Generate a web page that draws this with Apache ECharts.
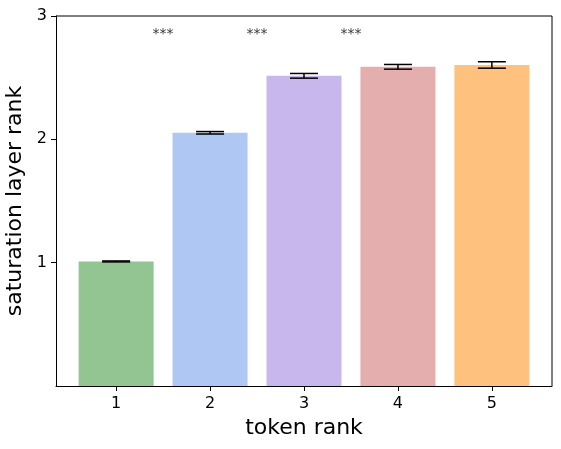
<!DOCTYPE html>
<html>
<head>
<meta charset="utf-8">
<script src="https://cdn.jsdelivr.net/npm/echarts@6/dist/echarts.min.js"></script>
<style>
  html, body { margin: 0; padding: 0; background: #fff; }
  #chart { width: 561px; height: 449px; }
</style>
</head>
<body>
<div id="chart"></div>
<script>
// token rank categories and values
const tokenRanks = [1, 2, 3, 4, 5]
const meanValues = [1.01, 2.053, 2.515, 2.588, 2.603]
const errValues = [0.004, 0.01, 0.019, 0.019, 0.026]
const barColors = ['#92c591', '#afc8f3', '#c8b7ec', '#e5aeae', '#fec27e']
// significance markers between neighbouring bars
const starPositions = [1.5, 2.5, 3.5]
const starLabels = ['***', '***', '***']
const starLevel = 2.855
const yTicks = [1, 2, 3]

const chart = echarts.init(document.getElementById('chart'))

const option = {
  animation: false,
  grid: {left: 56, right: 9, top: 16, bottom: 63, outerBoundsMode: 'none', containLabel: false},
  xAxis: {
    type: 'value',
    min: 0.36,
    max: 5.64,
    name: 'token rank',
    nameLocation: 'middle',
    nameGap: 31,
    nameTextStyle: {fontSize: 22, color: '#000', fontFamily: 'DejaVu Sans'},
    axisLine: {show: true, lineStyle: {color: '#000'}},
    axisTick: {show: true, length: 5, customValues: tokenRanks, lineStyle: {color: '#000'}},
    axisLabel: {customValues: tokenRanks, fontSize: 16, color: '#000', margin: 10, fontFamily: 'DejaVu Sans'},
    splitLine: {show: false}
  },
  yAxis: {
    type: 'value',
    min: 0,
    max: 3,
    name: 'saturation layer rank',
    nameLocation: 'middle',
    nameGap: 23,
    nameTextStyle: {fontSize: 22, color: '#000', fontFamily: 'DejaVu Sans'},
    axisLine: {show: true, lineStyle: {color: '#000'}},
    axisTick: {show: true, length: 5, customValues: yTicks, lineStyle: {color: '#000'}},
    axisLabel: {customValues: yTicks, fontSize: 16, color: '#000', margin: 9, fontFamily: 'DejaVu Sans'},
    splitLine: {show: false}
  },
  series: [
    {
      type: 'bar',
      barWidth: 75,
      data: tokenRanks.map((r, i) => ({value: [r, meanValues[i]], itemStyle: {color: barColors[i]}}))
    },
    {
      // error bars
      type: 'custom',
      data: tokenRanks.map((r, i) => [r, meanValues[i] - errValues[i], meanValues[i] + errValues[i]]),
      renderItem: (params, api) => {
        const lo = api.coord([api.value(0), api.value(1)])
        const hi = api.coord([api.value(0), api.value(2)])
        const w = 14
        const style = {stroke: '#000', lineWidth: 1.5}
        return {
          type: 'group',
          children: [
            {type: 'line', shape: {x1: lo[0], y1: lo[1], x2: hi[0], y2: hi[1]}, style},
            {type: 'line', shape: {x1: lo[0] - w, y1: lo[1], x2: lo[0] + w, y2: lo[1]}, style},
            {type: 'line', shape: {x1: hi[0] - w, y1: hi[1], x2: hi[0] + w, y2: hi[1]}, style}
          ]
        }
      },
      z: 5
    },
    {
      // stars
      type: 'scatter',
      symbolSize: 0,
      data: starPositions.map((x, i) => ({value: [x, starLevel], name: starLabels[i]})),
      label: {
        show: true,
        position: 'inside',
        formatter: p => p.name,
        fontSize: 14,
        color: '#000',
        fontFamily: 'DejaVu Sans'
      }
    }
  ],
  graphic: [
    {
      // top and right frame lines
      type: 'polyline',
      shape: {points: [[56, 16], [552, 16], [552, 386]]},
      style: {stroke: '#000', lineWidth: 1, fill: null}
    }
  ]
}

chart.setOption(option)
</script>
</body>
</html>
